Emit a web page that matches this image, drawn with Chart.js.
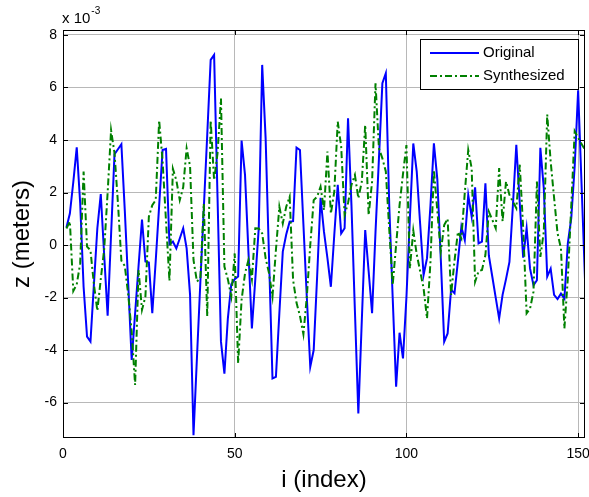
<!DOCTYPE html>
<html><head><meta charset="utf-8">
<script src="https://cdn.jsdelivr.net/npm/chart.js@4.4.0/dist/chart.umd.min.js"></script>
<style>html,body{margin:0;padding:0;background:#fff;}#wrap{width:589px;height:497px;}</style>
</head><body><div id="wrap"><canvas id="c" width="589" height="497"></canvas></div>
<script>
// values in units of 1e-3 m (axis shows "x 10^-3")
const original = [
 0.67, 1.2, 2.4, 3.72, 1.6, -1.6, -3.49, -3.68, -1.5, 0.64,
 1.94, -0.4, -2.69, 0.4, 3.46, 3.65, 3.84, 1.3, -1.5, -4.38,
 -2.6, -0.8, 0.97, -0.63, -0.67, -2.6, -0.6, 1.5, 3.62, 3.66,
 0.03, 0.13, -0.13, 0.25, 0.64, -0.13, -1.9, -7.24, -4.3, -1.4,
 1.4, 4.2, 7.05, 7.24, 1.8, -3.68, -4.9, -2.8, -1.5, -1.3,
 -1.2, 3.98, 2.67, -0.25, -3.18, -1.3, 0.64, 6.86, 4.07, -0.5,
 -5.08, -5.02, -2.6, -0.25, 0.4, 0.89, 0.91, 3.71, 3.62, 0.8,
 -2.0, -4.64, -4.0, -1.2, 1.8, 0.5, -0.5, -1.59, 0.4, 2.29,
 0.44, 0.64, 4.83, 1.5, -2.5, -6.42, -2.9, 0.57, -1.0, -2.6,
 0.5, 3.3, 6.16, 6.54, 1.5, -2.0, -5.4, -3.34, -4.32, -2.0,
 1.0, 3.87, 2.8, 0.8, -1.14, -0.5, 1.5, 3.87, 2.5, -0.5,
 -3.68, -3.37, -1.7, -1.84, -0.6, 0.7, 0.19, 1.9, 1.08, 2.2,
 0.06, 0.13, 2.35, -0.4, -1.2, -2.0, -2.8, -1.9, -1.3, -0.64,
 1.5, 3.82, 1.6, -0.48, 0.64, -0.9, -1.53, -1.34, 3.7, 2.17,
 -1.2, -0.9, -1.9, -2.06, -1.85, -2.04, 0.06, 1.02, 3.0, 5.89,
 2.3, -1.3
];
const synthesized = [
 0.63, 0.9, -1.75, -1.5, -0.7, 2.8, -0.06, -0.2, -1.5, -2.5,
 -1.3, -0.15, 2.0, 4.37, 3.5, 1.6, -0.6, -0.8, -1.9, -3.3,
 -5.33, -0.95, -2.47, -1.96, 1.08, 1.52, 1.71, 4.75, 3.2, 0.9,
 -1.37, 2.9, 2.47, 1.71, 2.2, 3.68, 3.0, -0.57, -1.39, -1.27,
 1.58, -2.72, 4.75, 2.47, 3.5, 5.58, -0.82, -1.3, -1.96, -0.32,
 -4.5, -2.09, -1.08, -0.57, -1.3, 0.64, 0.63, 0.44, -0.5, -1.08,
 -1.96, -0.19, 1.46, 0.82, 1.46, 1.84, -1.33, -2.2, -2.7, -3.4,
 -1.96, 0.0, 1.71, 1.84, 2.22, 1.33, 3.56, 1.2, 2.03, 4.7,
 3.75, 1.14, 1.6, 2.29, 2.67, 1.78, 2.41, 4.57, 1.14, 2.41,
 6.16, 3.68, 3.3, 2.8, 0.6, -1.52, 0.0, 1.52, 2.7, 3.81,
 -0.9, 0.55, -0.35, -1.0, -1.65, -2.8, -0.64, 2.86, 1.3, -0.25,
 0.76, 1.0, -1.9, -0.6, 0.5, 0.25, 2.0, 3.62, 2.92, -1.4,
 -1.0, -0.95, -0.38, 1.27, 0.96, 0.64, 2.93, 0.9, 2.42, 1.91,
 1.65, 1.4, 3.06, 0.64, -2.6, -2.42, -1.78, 2.42, -0.45, 0.5,
 4.97, 3.18, 1.8, 0.45, -0.13, -3.18, -1.27, 1.5, 4.33, 4.08,
 3.85, 3.63
];
const xTicks = [0, 50, 100, 150];
const yTicks = [-6, -4, -2, 0, 2, 4, 6, 8];
const seriesNames = ['Original', 'Synthesized'];
const xTitle = 'i (index)';
const yTitle = 'z (meters)';

const toPoints = arr => arr.map((v, k) => ({x: k + 1, y: v}));
const FONT = '"Liberation Sans", Arial, Helvetica, sans-serif';

const framePlugin = {
  id: 'frame',
  afterDraw(chart) {
    const {ctx, chartArea: a, scales: {x, y}} = chart;
    ctx.save();
    ctx.strokeStyle = '#000';
    ctx.lineWidth = 1;
    ctx.strokeRect(a.left + 0.5, a.top + 0.5, a.right - a.left - 1, a.bottom - a.top - 1);
    ctx.beginPath();
    xTicks.forEach(v => {
      const px = Math.round(x.getPixelForValue(v)) + 0.5;
      ctx.moveTo(px, a.bottom); ctx.lineTo(px, a.bottom - 5);
      ctx.moveTo(px, a.top); ctx.lineTo(px, a.top + 5);
    });
    yTicks.forEach(v => {
      const py = Math.round(y.getPixelForValue(v)) + 0.5;
      ctx.moveTo(a.left, py); ctx.lineTo(a.left + 5, py);
      ctx.moveTo(a.right, py); ctx.lineTo(a.right - 5, py);
    });
    ctx.stroke();
    // exponent label
    ctx.fillStyle = '#000';
    ctx.textAlign = 'left';
    ctx.textBaseline = 'alphabetic';
    ctx.font = '15px ' + FONT;
    ctx.fillText('x 10', 62, 23);
    const w = ctx.measureText('x 10').width;
    ctx.font = '10px ' + FONT;
    ctx.fillText('-3', 62 + w + 1, 14);
    // legend
    const lx = 420, ly = 39, lw = 158, lh = 50;
    ctx.fillStyle = '#fff';
    ctx.fillRect(lx, ly, lw, lh);
    ctx.strokeStyle = '#000';
    ctx.lineWidth = 1;
    ctx.strokeRect(lx + 0.5, ly + 0.5, lw, lh);
    const rows = [
      {name: seriesNames[0], color: '#0000ff', dash: [], y: 53},
      {name: seriesNames[1], color: '#008000', dash: [7, 3, 2, 3], y: 76}
    ];
    rows.forEach(r => {
      ctx.beginPath();
      ctx.setLineDash(r.dash);
      ctx.strokeStyle = r.color;
      ctx.lineWidth = 2;
      ctx.moveTo(430, r.y); ctx.lineTo(479, r.y);
      ctx.stroke();
      ctx.setLineDash([]);
      ctx.fillStyle = '#000';
      ctx.font = '15px ' + FONT;
      ctx.textBaseline = 'middle';
      ctx.fillText(r.name, 483, r.y);
    });
    ctx.restore();
  }
};

new Chart(document.getElementById('c'), {
  type: 'line',
  data: {
    datasets: [
      {label: seriesNames[0], data: toPoints(original), borderColor: '#0000ff', borderWidth: 2,
       pointRadius: 0, tension: 0, fill: false, order: 1},
      {label: seriesNames[1], data: toPoints(synthesized), borderColor: '#008000', borderWidth: 2,
       borderDash: [7, 3, 2, 3], pointRadius: 0, tension: 0, fill: false, order: 0}
    ]
  },
  options: {
    responsive: false,
    animation: false,
    devicePixelRatio: 1,
    layout: {padding: {left: 0, right: 4, top: 30, bottom: 0}},
    plugins: {legend: {display: false}, tooltip: {enabled: false}},
    scales: {
      x: {
        type: 'linear', min: 0, max: 152,
        ticks: {stepSize: 50, includeBounds: false, color: '#000', padding: 8,
                font: {family: FONT, size: 14}, maxRotation: 0},
        afterBuildTicks: s => { s.ticks = xTicks.map(v => ({value: v})); },
        grid: {color: '#b8b8b8', lineWidth: 1, drawTicks: false},
        border: {display: false},
        title: {display: true, text: xTitle, color: '#000', font: {family: FONT, size: 24},
                padding: {top: 0, bottom: 2}},
        afterFit: s => { s.height = 59; s.paddingLeft = 0; s.paddingRight = 0; }
      },
      y: {
        type: 'linear', min: -7.35, max: 8.19,
        ticks: {stepSize: 2, includeBounds: false, color: '#000', padding: 6,
                font: {family: FONT, size: 14}},
        afterBuildTicks: s => { s.ticks = yTicks.map(v => ({value: v})); },
        grid: {color: '#b8b8b8', lineWidth: 1, drawTicks: false},
        border: {display: false},
        title: {display: true, text: yTitle, color: '#000', font: {family: FONT, size: 24},
                padding: {top: 8, bottom: 0}},
        afterFit: s => { s.width = 63; s.paddingTop = 0; s.paddingBottom = 0; }
      }
    }
  },
  plugins: [framePlugin]
});
</script>
</body></html>
